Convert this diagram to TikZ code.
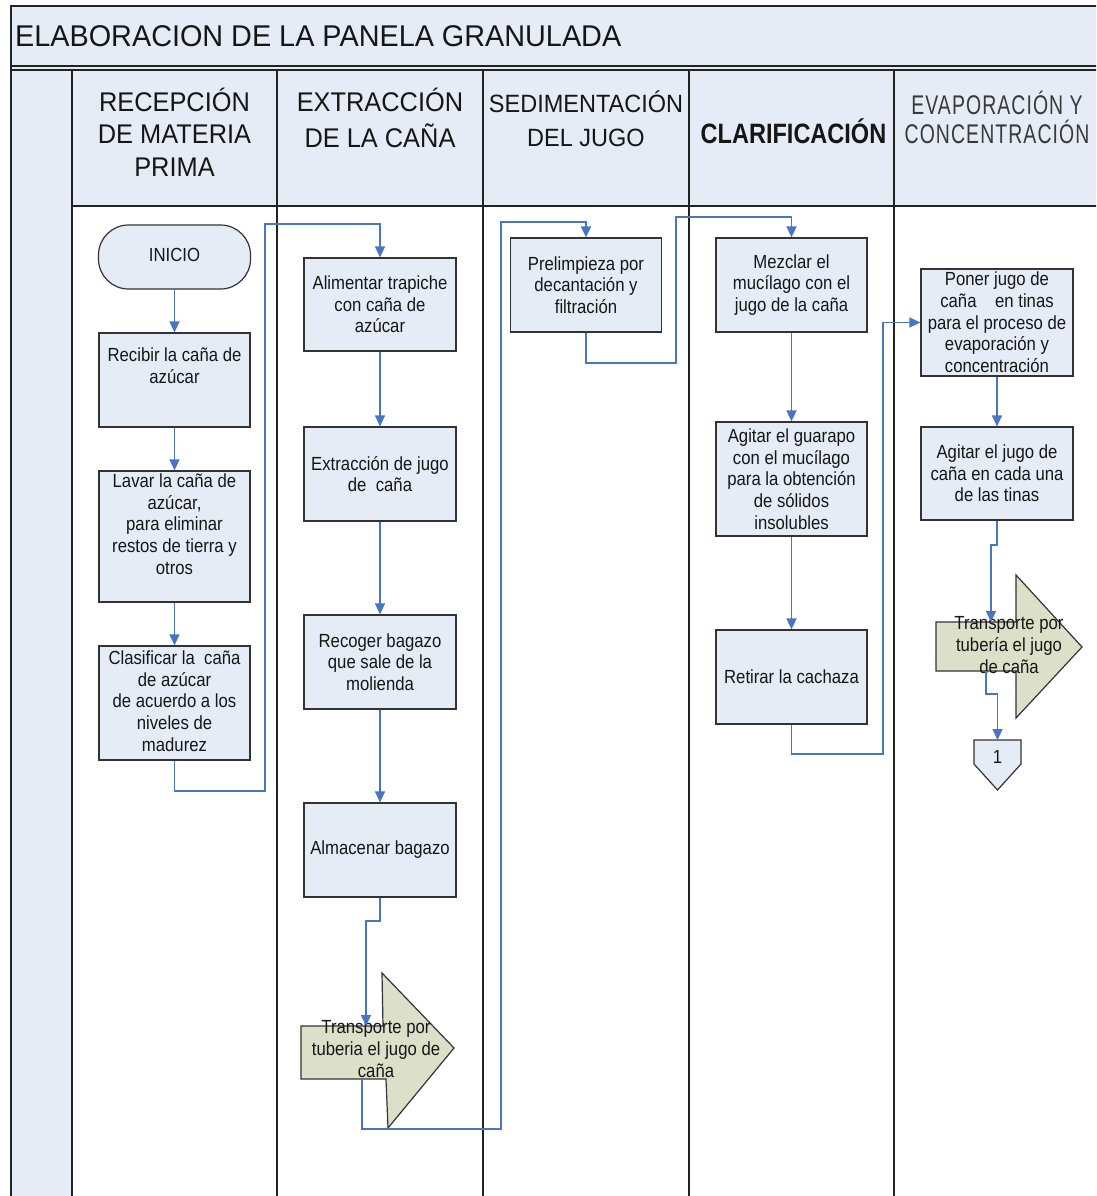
\documentclass[tikz,border=0pt]{standalone}
\usepackage{fontspec}
\usetikzlibrary{arrows.meta}

% Fonts: narrow-set Arial metrics
\newfontfamily\titlefont[FakeStretch=0.96]{Liberation Sans}
\newfontfamily\lanefont[FakeStretch=0.94]{Liberation Sans}
\newfontfamily\clarfont[FakeStretch=0.84]{Liberation Sans}
\newfontfamily\evapfont[FakeStretch=0.72,LetterSpace=4]{Liberation Sans}
\newfontfamily\boxfont[FakeStretch=0.88]{Liberation Sans}

\definecolor{panel}{RGB}{230,236,246}
\definecolor{pipe}{RGB}{221,224,200}
\definecolor{flowblue}{RGB}{72,118,196}
\definecolor{rulec}{RGB}{34,34,34}
\definecolor{edgec}{RGB}{51,51,51}
\definecolor{ink}{RGB}{22,22,22}

\tikzset{
  frameline/.style={draw=rulec, line width=1.8pt},
  laneline/.style={draw=rulec, line width=1.5pt},
  proc/.style={draw=edgec, line width=1.2pt, fill=panel, minimum width=151pt,
    minimum height=94pt, inner sep=0pt, align=center, text=ink,
    font=\boxfont\fontsize{19}{21.7}\selectfont},
  boxtext/.style={inner sep=0pt, align=center, text=ink,
    font=\boxfont\fontsize{19}{21.7}\selectfont},
  pipeshape/.style={fill=pipe, draw=edgec, line width=1.2pt},
  offshape/.style={fill=panel, draw=edgec, line width=1.2pt},
  flow/.style={draw=flowblue, line width=1.4pt,
    -{Triangle[length=11pt,width=10pt]}},
  lanehead/.style={inner sep=0pt, align=center, text=ink},
}

\begin{document}
\begin{tikzpicture}[x=1pt,y=-1pt]
\useasboundingbox (0,0) rectangle (1096,1196);
\clip (0,0) rectangle (1096,1196);
\fill[white] (0,0) rectangle (1096,1196);

% ---- pool background ----
\fill[panel] (11,6) rectangle (1120,70);
\fill[panel] (11,70) rectangle (72,1220);
\fill[panel] (72,70) rectangle (1120,206);

% ---- pool frame and lane separators ----
\draw[frameline] (1120,6) -- (11,6) -- (11,1220);
\draw[laneline] (11,66) -- (1120,66);
\draw[laneline] (11,70) -- (1120,70);
\foreach \lx in {72,277,483,689,894}
  \draw[laneline] (\lx,70) -- (\lx,1220);
\draw[laneline] (72,206) -- (1120,206);

% ---- title and lane headers ----
\node[anchor=base west, inner sep=0pt, text=ink,
  font=\titlefont\fontsize{30}{34}\selectfont] (titulo) at (15,46.7)
  {ELABORACION DE LA PANELA GRANULADA};
\node[lanehead, font=\lanefont\fontsize{27}{32.5}\selectfont] (lane1) at (174.5,132)
  {RECEPCIÓN\\DE MATERIA\\PRIMA};
\node[lanehead, font=\lanefont\fontsize{27}{35.4}\selectfont] (lane2) at (380,118)
  {EXTRACCIÓN\\DE LA CAÑA};
\node[lanehead, font=\lanefont\fontsize{25}{34}\selectfont] (lane3) at (586,118.7)
  {SEDIMENTACIÓN\\DEL JUGO};
\node[lanehead, anchor=base, font=\clarfont\bfseries\fontsize{28}{32}\selectfont] (lane4)
  at (793.5,143.3) {CLARIFICACIÓN};
\node[lanehead, text=ink!85, font=\evapfont\fontsize{27}{28.3}\selectfont] (lane5)
  at (997,117.5) {EVAPORACIÓN Y\\CONCENTRACIÓN};

% ---- lane 1: reception ----
\node[proc, minimum width=152pt, minimum height=64pt, rounded corners=30pt] (inicio)
  at (174.5,257) {};
\node[boxtext] (inicio-txt) at (174.5,254.5) {INICIO};
\node[proc] (recibir) at (174.5,380) {};
\node[boxtext] (recibir-txt) at (174.5,366) {Recibir la caña de\\azúcar};
\node[proc, minimum height=131pt] (lavar) at (174.5,536.5) {};
\node[boxtext] (lavar-txt) at (174.5,524) 
  {Lavar la caña de\\azúcar,\\para eliminar\\restos de tierra y\\otros};
\node[proc, minimum height=114pt] (clasificar) at (174.5,703) {};
\node[boxtext] (clasificar-txt) at (174.5,701)
  {Clasificar la\ \ caña\\de azúcar\\de acuerdo a los\\niveles de\\madurez};

% ---- lane 2: extraction ----
\node[proc, minimum width=152pt, minimum height=93pt] (alimentar) at (380,304.5)
  {Alimentar trapiche\\con caña de\\azúcar};
\node[proc, minimum width=152pt] (extraccion) at (380,474)
  {Extracción de jugo\\de\ \ caña};
\node[proc, minimum width=152pt] (recoger) at (380,662)
  {Recoger bagazo\\que sale de la\\molienda};
\node[proc, minimum width=152pt] (almacenar) at (380,850) {Almacenar bagazo};

% pipe transport (block arrow)
\filldraw[pipeshape] (301,1026) -- (383,1026) -- (382,973) -- (454,1048)
  -- (388,1128) -- (386,1079) -- (301,1079) -- cycle;
\node[boxtext] (tubo1) at (376,1049) {Transporte por\\tuberia el jugo de\\caña};
\coordinate (tubo1-in) at (366,1026);
\coordinate (tubo1-out) at (362,1079);

% ---- lane 3: sedimentation ----
\node[proc] (prelimpieza) at (586,285)
  {Prelimpieza por\\decantación y\\filtración};

% ---- lane 4: clarification ----
\node[proc] (mezclar) at (791.5,285)
  {Mezclar el\\mucílago con el\\jugo de la caña};
\node[proc, minimum height=114pt] (agitarg) at (791.5,479)
  {Agitar el guarapo\\con el mucílago\\para la obtención\\de sólidos\\insolubles};
\node[proc] (retirar) at (791.5,677) {Retirar la cachaza};

% ---- lane 5: evaporation and concentration ----
\node[proc, minimum width=152pt, minimum height=107pt] (poner) at (997,322.5)
  {Poner jugo de\\caña\ \ \ \ en tinas\\para el proceso de\\evaporación y\\concentración};
\node[proc, minimum width=152pt, minimum height=93pt] (agitarj) at (997,473.5)
  {Agitar el jugo de\\caña en cada una\\de las tinas};

\filldraw[pipeshape] (936,622) -- (1016,622) -- (1016,575) -- (1082,647)
  -- (1016,718) -- (1016,671) -- (936,671) -- cycle;
\node[boxtext] (tubo2) at (1009,645) {Transporte por\\tubería el jugo\\de caña};
\coordinate (tubo2-in) at (991,622);
\coordinate (tubo2-out) at (986,671);

% off-page connector
\filldraw[offshape] (974,740) -- (1021,740) -- (1021,764) -- (997.5,790)
  -- (974,764) -- cycle;
\node[boxtext] (pagina) at (997.5,757) {1};
\coordinate (pagina-in) at (997.5,740);

% ---- flow connectors ----
\draw[flow] (inicio.south) -- (recibir.north);
\draw[flow] (recibir.south) -- (lavar.north);
\draw[flow] (lavar.south) -- (clasificar.north);
\draw[flow] (clasificar.south) |- (265,791) |- (380,224) -- (alimentar.north);
\draw[flow] (alimentar.south) -- (extraccion.north);
\draw[flow] (extraccion.south) -- (recoger.north);
\draw[flow] (recoger.south) -- (almacenar.north);
\draw[flow] (almacenar.south) |- (366,921) -- (tubo1-in);
\draw[flow] (tubo1-out) |- (501,1129) |- (586,222) -- (prelimpieza.north);
\draw[flow] (prelimpieza.south) |- (676,363) |- (791.5,217) -- (mezclar.north);
\draw[flow] (mezclar.south) -- (agitarg.north);
\draw[flow] (agitarg.south) -- (retirar.north);
\draw[flow] (retirar.south) |- (883,754) |- (poner.west);
\draw[flow] (poner.south) -- (agitarj.north);
\draw[flow] (agitarj.south) |- (991,545) -- (tubo2-in);
\draw[flow] (tubo2-out) |- (997.5,694) -- (pagina-in);
\end{tikzpicture}
\end{document}
